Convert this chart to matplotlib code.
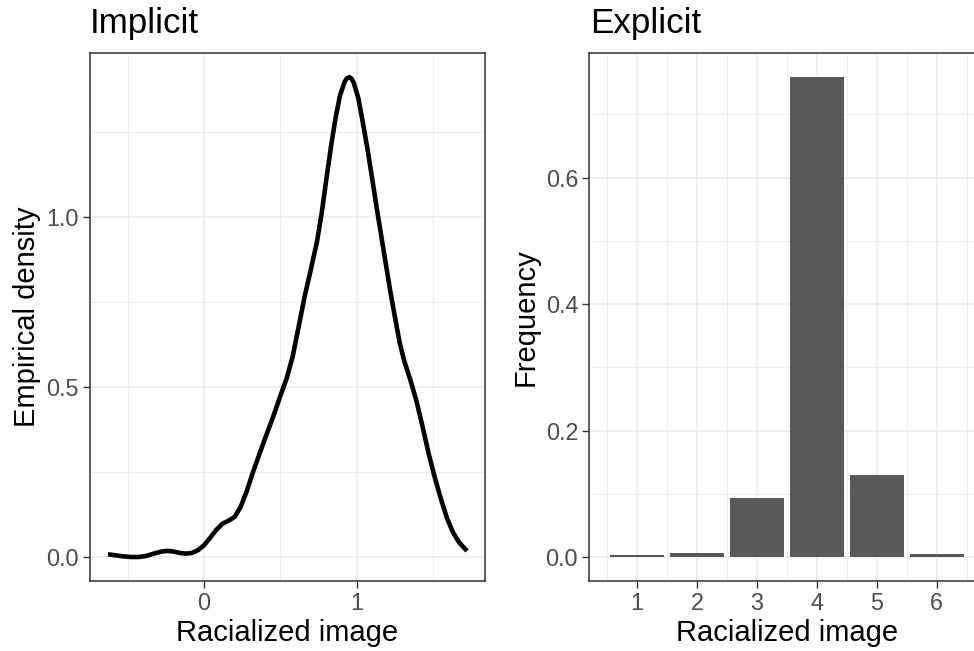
import numpy as np
import matplotlib.pyplot as plt
from matplotlib.ticker import FixedLocator

plt.rcParams['font.family'] = ['Liberation Sans', 'DejaVu Sans']

# Implicit: density curve
dens_x = [-0.630, -0.580, -0.530, -0.480, -0.430, -0.380, -0.330, -0.280,
          -0.240, -0.200, -0.160, -0.120, -0.080, -0.040, 0.000, 0.040,
          0.080, 0.120, 0.160, 0.200, 0.240, 0.280, 0.320, 0.360, 0.400,
          0.450, 0.500, 0.540, 0.580, 0.620, 0.660, 0.700, 0.740, 0.770,
          0.800, 0.830, 0.860, 0.890, 0.920, 0.935, 0.950, 0.965, 0.980,
          1.010, 1.040, 1.070, 1.100, 1.130, 1.160, 1.190, 1.220, 1.250,
          1.280, 1.310, 1.350, 1.390, 1.430, 1.470, 1.510, 1.550, 1.590,
          1.630, 1.670, 1.700, 1.722]
dens_y = [0.008, 0.005, 0.002, 0.000, 0.000, 0.003, 0.010, 0.016,
          0.018, 0.016, 0.012, 0.010, 0.012, 0.020, 0.035, 0.057,
          0.080, 0.098, 0.107, 0.118, 0.148, 0.195, 0.250, 0.300, 0.350,
          0.410, 0.475, 0.525, 0.590, 0.680, 0.770, 0.848, 0.930, 1.012,
          1.110, 1.205, 1.290, 1.358, 1.398, 1.409, 1.412, 1.408, 1.395,
          1.350, 1.277, 1.200, 1.115, 1.028, 0.945, 0.862, 0.780, 0.705,
          0.632, 0.578, 0.522, 0.460, 0.385, 0.305, 0.235, 0.172, 0.115,
          0.072, 0.043, 0.028, 0.018]

# Explicit: bar frequencies
categories = [1, 2, 3, 4, 5, 6]
freq = [0.0027, 0.0063, 0.0934, 0.759, 0.129, 0.0043]

BASE = 21
GRID = '#EBEBEB'


def style_axes(ax):
    ax.set_facecolor('white')
    for s in ax.spines.values():
        s.set_color('#333333')
        s.set_linewidth(1.1)
    ax.grid(True, which='major', color=GRID, linewidth=1.1)
    ax.grid(True, which='minor', color=GRID, linewidth=0.6)
    ax.set_axisbelow(True)
    ax.tick_params(which='major', length=5, width=1.0, color='#333333',
                   labelsize=BASE * 0.8, labelcolor='#4D4D4D', pad=3)
    ax.tick_params(which='minor', length=0)


fig = plt.figure(figsize=(9.74, 6.51), dpi=100)

# left panel
ax1 = fig.add_axes([90 / 974, 70 / 651, 395 / 974, 528 / 651])
style_axes(ax1)
ax1.plot(dens_x, dens_y, color='black', linewidth=3.3,
         solid_joinstyle='round', solid_capstyle='butt')
ax1.set_xlim(-0.7475, 1.8395)
ax1.set_ylim(-0.0706, 1.483)
ax1.xaxis.set_major_locator(FixedLocator([0, 1]))
ax1.xaxis.set_minor_locator(FixedLocator([-0.5, 0.5, 1.5]))
ax1.yaxis.set_major_locator(FixedLocator([0, 0.5, 1.0]))
ax1.yaxis.set_minor_locator(FixedLocator([0.25, 0.75, 1.25]))
ax1.set_yticklabels(['0.0', '0.5', '1.0'])
ax1.set_xlabel('Racialized image', fontsize=BASE, labelpad=3)
ax1.set_ylabel('Empirical density', fontsize=BASE, labelpad=4)

# right panel (runs past the right edge, as in the picture)
ax2 = fig.add_axes([589.3 / 974, 70 / 651, 395.3 / 974, 528 / 651])
style_axes(ax2)
ax2.bar(categories, freq, width=0.9, color='#595959', zorder=2)
ax2.set_xlim(0.2, 6.8)
ax2.set_ylim(-0.038, 0.797)
ax2.xaxis.set_major_locator(FixedLocator(categories))
ax2.xaxis.set_minor_locator(FixedLocator([0.5, 1.5, 2.5, 3.5, 4.5, 5.5, 6.5]))
ax2.yaxis.set_major_locator(FixedLocator([0, 0.2, 0.4, 0.6]))
ax2.yaxis.set_minor_locator(FixedLocator([0.1, 0.3, 0.5, 0.7]))
ax2.set_yticklabels(['0.0', '0.2', '0.4', '0.6'])
ax2.set_xlabel('Racialized image', fontsize=BASE, labelpad=3)
ax2.set_ylabel('Frequency', fontsize=BASE, labelpad=4)

fig.text(90 / 974, 1 - 33.5 / 651, 'Implicit', fontsize=BASE * 1.2,
         ha='left', va='baseline')
fig.text(590 / 974, 1 - 33.5 / 651, 'Explicit', fontsize=BASE * 1.2,
         ha='left', va='baseline')

fig.savefig('out.png', dpi=100)
